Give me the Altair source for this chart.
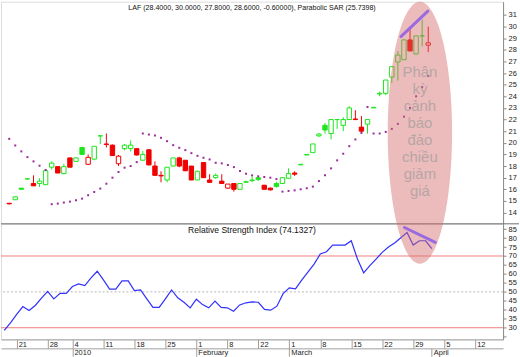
import altair as alt
import pandas as pd
import numpy as np

# ---------------- data ----------------
dates = [
    "2009-12-17", "2009-12-18", "2009-12-21", "2009-12-22", "2009-12-23", "2009-12-24", "2009-12-25",
    "2009-12-28", "2009-12-29", "2009-12-30", "2009-12-31",
    "2010-01-04", "2010-01-05", "2010-01-06", "2010-01-07", "2010-01-08",
    "2010-01-11", "2010-01-12", "2010-01-13", "2010-01-14", "2010-01-15",
    "2010-01-18", "2010-01-19", "2010-01-20", "2010-01-21", "2010-01-22",
    "2010-01-25", "2010-01-26", "2010-01-27", "2010-01-28", "2010-01-29",
    "2010-02-01", "2010-02-02", "2010-02-03", "2010-02-04", "2010-02-05",
    "2010-02-08", "2010-02-09", "2010-02-10", "2010-02-11", "2010-02-12",
    "2010-02-22", "2010-02-23", "2010-02-24", "2010-02-25", "2010-02-26",
    "2010-03-01", "2010-03-02", "2010-03-03", "2010-03-04", "2010-03-05",
    "2010-03-08", "2010-03-09", "2010-03-10", "2010-03-11", "2010-03-12",
    "2010-03-15", "2010-03-16", "2010-03-17", "2010-03-18", "2010-03-19",
    "2010-03-22", "2010-03-23", "2010-03-24", "2010-03-25", "2010-03-26",
    "2010-03-29", "2010-03-30", "2010-03-31", "2010-04-01",
]
opens = [14.8, 15.1, 16.1, 16.9, 16.5, 16.5, 16.4, 17.9, 17.95, 17.35, 18.7,
         18.4, 19.6, 18.15, 18.6, 20.6, 19.9, 19.8, 18.2, 19.5, 19.5, 19.5, 18.5, 19.4, 18.0, 17.2,
         16.8, 18.0, 18.7, 18.5, 18.0,
         16.8, 18.3, 16.8, 17.0, 16.7, 16.1, 16.5, 16.0, 16.6, 16.75, 17.0, 16.35, 16.1, 16.5, 16.5,
         16.95, 17.4, 18.1, 18.95, 19.15, 20.6, 21.5, 20.8, 22.0, 21.5, 22.0, 22.05, 21.35, 21.6, 23.0,
         24.2, 24.25, 25.65, 26.95, 27.15, 28.85, 27.65, 29.2,
         28.4]
highs = [14.8, 15.4, 16.1, 16.9, 17.2, 16.95, 17.65, 18.4, 17.95, 18.2, 18.7,
         18.75, 19.65, 19.0, 19.7, 20.65, 20.8, 19.85, 18.95, 19.9, 20.2, 19.5, 19.3, 19.45, 18.4, 17.55,
         17.9, 18.7, 18.8, 18.5, 18.0,
         17.6, 18.3, 17.3, 17.35, 17.3, 16.45, 16.5, 16.5, 16.75, 17.1, 17.0, 16.35, 16.15, 16.65, 17.0,
         17.8, 17.55, 18.15, 19.0, 19.9, 20.85, 21.7, 22.0, 22.0, 22.2, 23.15, 22.8, 22.3, 22.0, 23.1,
         24.4, 25.4, 26.55, 27.9, 28.9, 29.8, 29.2, 30.6,
         30.0]
lows = [14.7, 15.1, 16.0, 16.8, 16.3, 16.2, 16.35, 17.7, 17.4, 17.3, 17.9,
        18.35, 19.0, 18.1, 18.5, 19.9, 19.6, 18.9, 18.0, 19.35, 19.25, 18.9, 18.5, 18.05, 17.2, 16.6,
        16.6, 18.0, 17.9, 17.55, 16.8,
        16.8, 17.0, 16.55, 16.9, 16.45, 16.05, 15.8, 16.0, 16.55, 16.6, 16.7, 16.0, 15.9, 16.15, 16.5,
        16.95, 17.15, 18.1, 18.95, 19.15, 20.5, 20.8, 20.3, 21.2, 21.0, 22.0, 21.95, 20.85, 20.8, 23.0,
        24.0, 24.1, 25.15, 25.35, 27.15, 27.9, 27.6, 28.3,
        27.8]
closes = [14.75, 15.35, 16.0, 16.9, 16.3, 16.7, 17.6, 18.25, 17.4, 17.95, 17.9,
          18.7, 19.0, 18.75, 19.7, 20.6, 19.85, 18.9, 18.85, 19.8, 19.8, 18.95, 19.0, 18.1, 17.2, 17.15,
          17.9, 18.7, 18.0, 17.6, 16.8,
          17.55, 17.0, 16.6, 17.2, 16.5, 16.45, 16.0, 16.5, 16.65, 16.8, 16.85, 16.0, 15.95, 16.25, 17.0,
          17.35, 17.3, 18.15, 19.0, 19.9, 20.75, 21.1, 22.0, 22.0, 22.0, 23.0, 22.0, 21.0, 22.0, 23.05,
          24.25, 25.4, 26.55, 27.55, 28.85, 27.9, 29.2, 29.2,
          28.6]
prev_close_first = 14.9

sar = [20.34, 19.77, 19.26, 18.77, 18.40, 18.03, 17.66, 14.72, 14.77, 14.86, 14.94,
       15.06, 15.2, 15.49, 15.77, 16.06, 16.48, 17.0, 17.49, 17.86, 18.0, 18.34, 20.8, 20.71, 20.63,
       20.43, 20.14, 19.8, 19.57, 19.37, 19.11,
       18.88, 18.71, 18.57, 18.28, 18.23, 18.09, 17.91, 17.57, 17.34, 17.2, 17.12, 17.06, 17.0, 16.88, 15.8,
       15.86, 15.91, 16.0, 16.09, 16.23, 16.71, 17.2, 17.8, 18.49, 19.06, 19.71, 20.29, 20.85, 23.08,
       20.8, 20.8, 20.94, 21.2, 21.63, 22.25, 23.0, 24.0, 24.79,
       25.7398]

rsi = [28.5, 32.7, 37.4, 41.8, 39.6, 42.4, 46.5, 50.3, 46.1, 49.2, 49.2,
       53.0, 54.4, 53.5, 57.8, 61.5, 56.7, 51.5, 51.5, 56.1, 56.1, 50.7, 51.1, 46.1, 41.3, 41.3,
       46.1, 51.1, 46.7, 44.2, 41.1,
       45.9, 42.9, 41.1, 44.8, 41.3, 41.1, 39.2, 42.7, 43.9, 44.4, 44.2, 40.2, 39.8, 42.0, 49.0,
       52.2, 51.7, 56.5, 61.0, 65.5, 71.1, 72.4, 76.1, 76.1, 76.1, 78.5, 68.3, 60.6, 64.6, 68.3,
       72.0, 75.0, 77.3, 80.2, 83.1, 76.1, 78.5, 78.5,
       74.1327]

week_idx = [2, 7, 11, 16, 21, 26, 31, 36, 41, 46, 51, 56, 61, 66, 71, 76]
week_labels = ["21", "28", "4", "11", "18", "25", "1", "8", "22", "1", "8", "15", "22", "29", "5", "12"]
month_idx = [11, 31, 46, 69]
month_labels = ["2010", "February", "March", "April"]

rsi_levels = [30, 70]
rsi_mid = [50]

price_ticks = list(range(14, 32))
rsi_ticks = list(range(25, 90, 5))

annotation_text = "Phân\nkỳ\ncảnh\nbáo\nđảo\nchiều\ngiảm\ngiá"

# ---------------- derived table ----------------
GREEN = "#1ee61e"
RED = "#f00000"
prev = [prev_close_first] + closes[:-1]
col = [GREEN if c >= p else RED for c, p in zip(closes, prev)]
fillc = [cc if c < o else "#ffffff" for cc, c, o in zip(col, closes, opens)]
df = pd.DataFrame({
    "idx": list(range(len(dates))), "date": dates,
    "open": opens, "high": highs, "low": lows, "close": closes,
    "sar": sar, "rsi": rsi, "col": col, "fillc": fillc,
})

top_title = (f"LAF ({opens[-1]:.4f}, {highs[-1]:.4f}, {lows[-1]:.4f}, {closes[-1]:.4f}, "
             f"{closes[-1] - closes[-2]:.5f}), Parabolic SAR ({sar[-1]:.4f})")
rsi_title = f"Relative Strength Index ({rsi[-1]:.4f})"

W = 504
H_TOP = 223
H_RSI = 116

xs = alt.Scale(domain=[-0.53, 80.5], nice=False, zero=False)
ytop = alt.Scale(domain=[13.03, 32.14], nice=False, zero=False)
yrsi = alt.Scale(domain=[23.5, 87.94], nice=False, zero=False)

axis_common = dict(labelFont="Liberation Sans", labelFontSize=7.5, labelColor="#222",
                   domainColor="#8a8a8a", tickColor="#8a8a8a", grid=False, title=None)

top_axis = alt.Axis(orient="right", values=price_ticks, tickSize=3, labelPadding=2,
                    labelOverlap=False, labelFlush=False, **axis_common)
rsi_axis = alt.Axis(orient="right", values=rsi_ticks, tickSize=3, labelPadding=2,
                    labelExpr="datum.value < 30 ? '' : datum.label", labelOverlap=False,
                    labelFlush=False, **axis_common)


def js_arr(vals, quote=False):
    if quote:
        return "[" + ",".join("'" + v + "'" for v in vals) + "]"
    return "[" + ",".join(str(v) for v in vals) + "]"


bottom_common = {**axis_common, "domainColor": "#a0a0a0", "tickColor": "#a0a0a0"}
week_axis = alt.Axis(orient="bottom", values=week_idx,
                     labelExpr=f"{js_arr(week_labels, True)}[indexof({js_arr(week_idx)}, datum.value)]",
                     tickSize=9, labelAlign="left", labelBaseline="top", labelPadding=-8, labelOffset=1.5,
                     labelOverlap=False, labelFlush=False, labelBound=False, **bottom_common)
month_axis = alt.Axis(orient="bottom", values=month_idx, offset=9,
                      labelExpr=f"{js_arr(month_labels, True)}[indexof({js_arr(month_idx)}, datum.value)]",
                      tickSize=8, labelAlign="left", labelBaseline="top", labelPadding=-7.5, labelOffset=1.5,
                      labelOverlap=False, labelFlush=False, labelBound=False, **bottom_common)

base = alt.Chart(df)
X = alt.X("idx:Q", scale=xs, axis=None)

# ---------------- top panel ----------------
wicks = base.mark_rule(strokeWidth=1).encode(
    x=X, y=alt.Y("low:Q", scale=ytop, axis=top_axis), y2="high:Q",
    color=alt.Color("col:N", scale=None))
bodies = base.mark_bar(size=4.4, strokeWidth=1).encode(
    x=X, y=alt.Y("open:Q", scale=ytop, axis=top_axis), y2="close:Q",
    fill=alt.Fill("fillc:N", scale=None), stroke=alt.Stroke("col:N", scale=None))
sar_pts = base.mark_square(size=4, color="#9a2c9a", opacity=1).encode(
    x=X, y=alt.Y("sar:Q", scale=ytop, axis=top_axis))
title_top_mark = alt.Chart(pd.DataFrame({"t": [top_title]})).mark_text(
    fontSize=7.1, color="#111", align="center", baseline="middle", font="Liberation Sans").encode(
    text="t:N", x=alt.value(252), y=alt.value(6))

top = alt.layer(wicks, bodies, sar_pts, title_top_mark).properties(width=W, height=H_TOP)

# ---------------- RSI panel ----------------
ref_red = alt.Chart(pd.DataFrame({"v": rsi_levels})).mark_rule(color="#f08080", strokeWidth=1).encode(
    y=alt.Y("v:Q", scale=yrsi, axis=rsi_axis))
ref_mid = alt.Chart(pd.DataFrame({"v": rsi_mid})).mark_rule(
    color="#b8b8b8", strokeWidth=1, strokeDash=[2, 2]).encode(
    y=alt.Y("v:Q", scale=yrsi, axis=rsi_axis))
rsi_line = base.mark_line(color="#3030ff", strokeWidth=1.2).encode(
    x=alt.X("idx:Q", scale=xs, axis=week_axis), y=alt.Y("rsi:Q", scale=yrsi, axis=rsi_axis))
month_mark = alt.Chart(pd.DataFrame({"idx": month_idx})).mark_point(opacity=0).encode(
    x=alt.X("idx:Q", scale=xs, axis=month_axis))
separator = alt.Chart(pd.DataFrame({"a": [0]})).mark_rule(color="#6e6e6e", strokeWidth=1).encode(
    x=alt.value(0), x2=alt.value(520), y=alt.value(0))
title_rsi_mark = alt.Chart(pd.DataFrame({"t": [rsi_title]})).mark_text(
    fontSize=8.6, color="#111", align="center", baseline="middle", font="Liberation Sans").encode(
    text="t:N", x=alt.value(252), y=alt.value(6))

# annotation overlay (pink ellipse, purple divergence lines, text) drawn last
ell_cx, ell_cy, ell_hw, ell_hh = 420.5, 131.5 - H_TOP, 32.3, 131.5
ang = np.linspace(0, 2 * np.pi, 97)[:-1]
ell_path = "M" + " L".join(f"{(ell_hw / ell_hh) * np.cos(a):.4f},{np.sin(a):.4f}" for a in ang) + " Z"
ellipse = alt.Chart(pd.DataFrame({"a": [0]})).mark_point(
    shape=ell_path, size=(2 * ell_hh) ** 2, filled=True, color="#d46a6a", opacity=0.45, strokeWidth=0).encode(
    x=alt.value(ell_cx), y=alt.value(ell_cy))
div_top = alt.Chart(pd.DataFrame({"a": [0]})).mark_rule(
    color="#9a6be0", strokeWidth=3, strokeCap="round").encode(
    x=alt.value(401.5), y=alt.value(35 - H_TOP), x2=alt.value(428.5), y2=alt.value(9.5 - H_TOP))
div_rsi = alt.Chart(pd.DataFrame({"a": [0]})).mark_rule(
    color="#9a6be0", strokeWidth=3, strokeCap="round").encode(
    x=alt.value(405), y=alt.value(3.7), x2=alt.value(436), y2=alt.value(18.7))
ann_text = alt.Chart(pd.DataFrame({"t": [annotation_text]})).mark_text(
    fontSize=15, lineHeight=17, lineBreak="\n", align="center", baseline="alphabetic",
    color="#9a9a9a", opacity=0.65, font="Liberation Sans").encode(
    text="t:N", x=alt.value(ell_cx), y=alt.value(76 - H_TOP))

rsi_panel = alt.layer(ref_mid, ref_red, rsi_line, month_mark, separator, title_rsi_mark,
                      ellipse, div_top, div_rsi, ann_text).resolve_axis(x="independent").properties(
    width=W, height=H_RSI)

chart = alt.vconcat(top, rsi_panel, spacing=0, bounds="flush").properties(
    padding=0, background="white").configure_view(stroke=None).configure(font="Liberation Sans")

chart.save("out.html", embed_options={"renderer": "svg", "actions": False})
